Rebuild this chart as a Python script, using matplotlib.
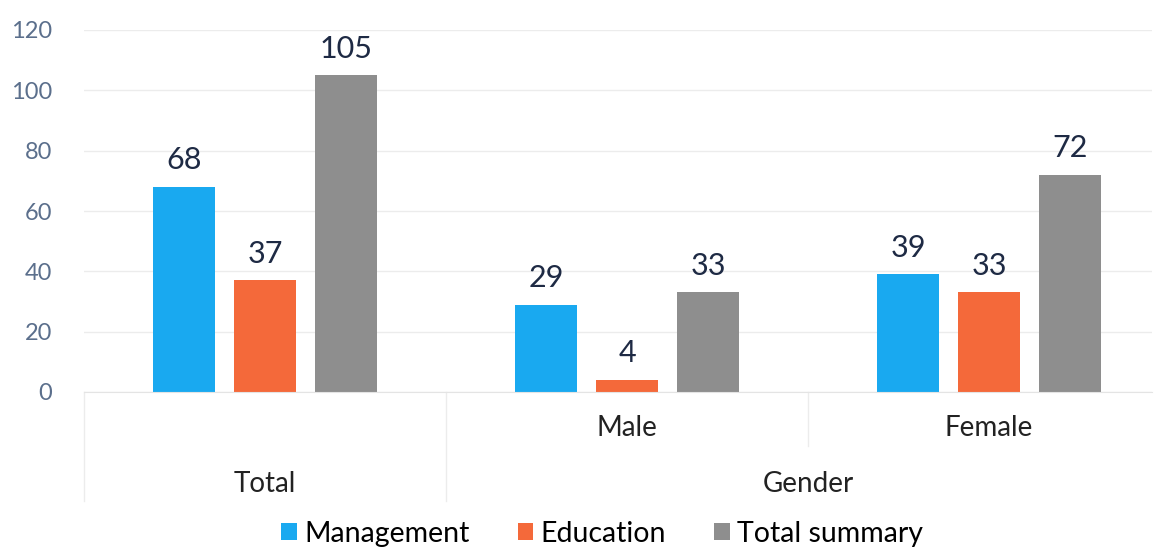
import matplotlib.pyplot as plt
import numpy as np

# data
categories = ['Total', 'Male', 'Female']
series = ['Management', 'Education', 'Total summary']
management = [68, 29, 39]
education = [37, 4, 33]
total_summary = [105, 33, 72]
colors = ['#19a9f0', '#f4693a', '#8e8e8e']

plt.rcParams['font.family'] = ['Lato', 'DejaVu Sans']

fig = plt.figure(figsize=(11.58, 5.53), dpi=100)
ax = fig.add_axes([84 / 1158, 1 - 392 / 553, 1068 / 1158, 362 / 553])

x = np.arange(len(categories))
width = 0.171
step = 0.224

for i, (name, vals) in enumerate(zip(series, [management, education, total_summary])):
    bars = ax.bar(x + (i - 1) * step, vals, width, color=colors[i], label=name)
    ax.bar_label(bars, padding=9, fontsize=22, color='#1e2a44')

ax.set_xlim(-0.5, 2.45)
ax.set_ylim(0, 120)
ax.set_yticks(range(0, 121, 20))
ax.tick_params(axis='y', labelsize=17, labelcolor='#5b6f8c', length=0, pad=23)
ax.set_xticks([])
ax.grid(axis='y', color='#ececec', linewidth=1)
ax.set_axisbelow(True)
for s in ['top', 'right', 'left']:
    ax.spines[s].set_visible(False)
ax.spines['bottom'].set_color('#e4e4e4')

# multi-level category labels
trans = ax.get_xaxis_transform()
lab = dict(transform=trans, ha='center', va='center', fontsize=20, color='#222222')
ax.text(1, -0.1, 'Male', **lab)
ax.text(2, -0.1, 'Female', **lab)
ax.text(0, -0.253, 'Total', **lab)
ax.text(1.5, -0.253, 'Gender', **lab)

# separator lines under the axis
for xs, y1 in [(-0.5, -0.3), (0.5, -0.3), (1.5, -0.15)]:
    ax.plot([xs, xs], [0, y1], transform=trans, color='#ececec', linewidth=1, clip_on=False)

fig.legend(loc='lower center', bbox_to_anchor=(0.52, -0.035), ncol=3, frameon=False,
           fontsize=20.5, handlelength=0.55, handleheight=0.55, handletextpad=0.25, columnspacing=1.7)

fig.savefig('out.png', dpi=100)
